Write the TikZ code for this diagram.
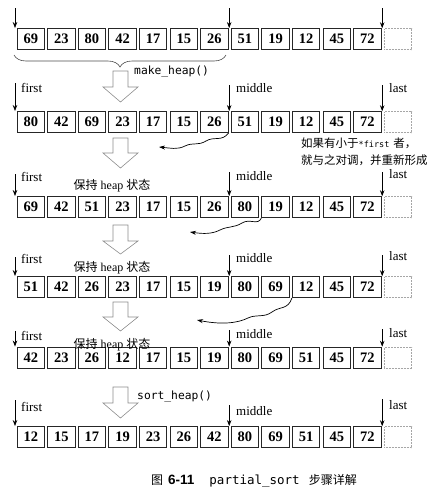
\documentclass[tikz,border=0pt]{standalone}
\usepackage{fontspec}
\setmainfont{Liberation Serif}
\newfontfamily\cjk{Noto Sans CJK SC}
\newfontfamily\monof{DejaVu Sans Mono}
\newfontfamily\capsans{Liberation Sans}
\usetikzlibrary{arrows.meta,decorations.pathreplacing}
\tikzset{
  cell/.style={draw=black!85, line width=0.9pt, minimum width=27.5pt, minimum height=21pt, inner sep=0pt, font=\fontsize{14.5}{16}\selectfont\bfseries},
  emptycell/.style={draw=black!35, densely dotted, line width=0.5pt, minimum width=27.5pt, minimum height=21pt, inner sep=0pt},
  ptr/.style={-{Stealth[length=6pt,width=4.5pt]}, line width=0.7pt},
  lbl/.style={font=\fontsize{13}{14}\selectfont, inner sep=0pt, anchor=west},
  hollow/.style={draw=black!45, line width=0.6pt},
  wave/.style={-{Stealth[length=6pt,width=4pt]}, line width=0.7pt},
  keep/.style={font=\fontsize{12}{14}\selectfont, inner sep=0pt},
  func/.style={font=\monof\fontsize{11.3}{13}\selectfont, inner sep=0pt, anchor=west},
  note/.style={font=\cjk\fontsize{11.5}{13}\selectfont, inner sep=0pt, anchor=west},
  bracestyle/.style={decorate, decoration={brace, mirror, amplitude=12pt}, line width=0.6pt, draw=black!70}
}
\newcommand\harrow[3]{\draw[hollow] (113,#1) -- (128,#1) -- (128,#2) -- (138,#2) -- (120.5,#3) -- (103,#2) -- (113,#2) -- cycle;}
\begin{document}
\begin{tikzpicture}[x=1pt,y=-1pt]
\useasboundingbox (0,0) rectangle (433,499);

% cells
\foreach \rw/\yy/\vals in {
  1/39/{69,23,80,42,17,15,26,51,19,12,45,72},
  2/122/{80,42,69,23,17,15,26,51,19,12,45,72},
  3/207/{69,42,51,23,17,15,26,80,19,12,45,72},
  4/287/{51,42,26,23,17,15,19,80,69,12,45,72},
  5/357.5/{42,23,26,12,17,15,19,80,69,51,45,72},
  6/437/{12,15,17,19,23,26,42,80,69,51,45,72}}{
  \foreach \v [count=\i from 0] in \vals {
    \node[cell] (r\rw c\i) at ({30.75+30.6*\i},\yy) {\v};
  }
  \node[emptycell] (r\rw c12) at ({30.75+30.6*12},\yy) {};
}

% row 1 pointers
\coordinate (f1) at (15,8);
\coordinate (m1) at (229.2,8);
\coordinate (l1) at (382.2,8);
\draw[ptr] (f1) -- (f1 |- r1c0.north);
\draw[ptr] (m1) -- (m1 |- r1c7.north);
\draw[ptr] (l1) -- (l1 |- r1c12.north);

% labelled pointers
\foreach \rw/\ft/\fl/\mt/\ml/\lt/\ll in {
  2/83/88/85/88/85/88,
  3/174/177/172/176/172/174,
  4/257/259/255/258/255/256,
  5/331/336/330/334/329/333,
  6/400/407/405/411/399/405}{
  \coordinate (f\rw) at (15,\ft);
  \coordinate (m\rw) at (229.2,\mt);
  \coordinate (l\rw) at (382.2,\lt);
  \draw[ptr] (f\rw) -- (f\rw |- r\rw c0.north);
  \draw[ptr] (m\rw) -- (m\rw |- r\rw c7.north);
  \draw[ptr] (l\rw) -- (l\rw |- r\rw c12.north);
  \node[lbl] (fl\rw) at (21,\fl) {first};
  \node[lbl] (ml\rw) at (236,\ml) {middle};
  \node[lbl] (ll\rw) at (389,\ll) {last};
}

% brace and functions
\draw[bracestyle] (14,55) -- (226,55);
\node[func] (mk) at (134,72) {make\_heap()};
\node[func] (sh) at (137,397) {sort\_heap()};

% hollow arrows
\harrow{71}{87}{102}
\harrow{138}{153}{168}
\harrow{225}{241}{254}
\harrow{302}{317}{331}
\harrow{387}{403}{418}

% keep heap labels
\node[keep] (k3) at (112,186) {{\cjk 保持} heap {\cjk 状态}};
\node[keep] (k4) at (112,268) {{\cjk 保持} heap {\cjk 状态}};
\node[keep] (k5) at (112,345) {{\cjk 保持} heap {\cjk 状态}};

% note
\node[note] (n1) at (301,143) {如果有小于{\monof\fontsize{8.5}{10}\selectfont *first}\hspace{4pt}者，};
\node[note] (n2) at (301,160) {就与之对调，并重新形成};

% wavy arrows
\coordinate (w1) at (159,147);
\draw[wave] (r2c6.south east) .. controls (222,142) and (214,136) .. (206,141) .. controls (198,146) and (193,142) .. (185,146) .. controls (177,150) and (170,148) .. (w1);
\coordinate (w2) at (190,232);
\draw[wave] (r3c8.south west) .. controls (258,226) and (250,218) .. (242,223) .. controls (234,228) and (228,226) .. (220,230) .. controls (212,234) and (204,234) .. (w2);
\coordinate (w3) at (197,320);
\draw[wave] (r4c9.south west) .. controls (288,310) and (280,306) .. (272,312) .. controls (264,318) and (256,314) .. (248,318) .. controls (238,323) and (222,325) .. (w3);

% caption
\node[inner sep=0pt, anchor=west] (cap) at (151,481) {{\cjk\fontsize{12}{14}\selectfont 图}\hspace{5pt}{\capsans\bfseries\fontsize{13.5}{15}\selectfont 6-11}\hspace{15pt}{\monof\fontsize{12.5}{14}\selectfont partial\_sort}\hspace{9pt}{\cjk\fontsize{12}{14}\selectfont 步骤详解}};
\end{tikzpicture}
\end{document}
